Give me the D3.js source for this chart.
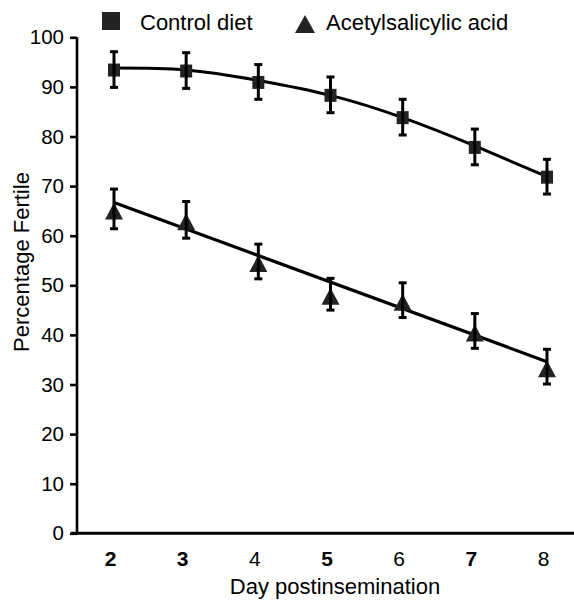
<!DOCTYPE html>
<html>
<head>
<meta charset="utf-8">
<script src="https://cdn.jsdelivr.net/npm/d3@7"></script>
<style>
  html, body { margin: 0; padding: 0; background: #fff; }
  svg { display: block; }
  text { font-family: "Liberation Sans", Arial, sans-serif; fill: #000; }
</style>
</head>
<body>
<svg id="chart" width="574" height="601"></svg>
<script>
// ---- data ----
const days = [2, 3, 4, 5, 6, 7, 8];
const controlMean = [93.5, 93.3, 91.0, 88.4, 83.9, 77.9, 71.9];
const controlErr  = [3.6, 3.6, 3.5, 3.6, 3.6, 3.6, 3.5];
const asaMean = [65.4, 63.2, 54.8, 48.2, 47.0, 40.8, 33.6];
const asaErr  = [4.0, 3.7, 3.5, 3.2, 3.5, 3.5, 3.5];
const controlFit = [93.8, 93.4, 91.3, 88.3, 83.8, 78.1, 71.9];
const asaFitDays = [2, 8];
const asaFit = [66.7, 34.6];
const yTicks = [0, 10, 20, 30, 40, 50, 60, 70, 80, 90, 100];
const xTickLabels = ["2", "3", "4", "5", "6", "7", "8"];
const seriesNames = ["Control diet", "Acetylsalicylic acid"];

// ---- layout ----
const svg = d3.select("#chart");
const x = d3.scaleLinear().domain([2, 8]).range([114, 547]);
const y = d3.scaleLinear().domain([0, 100]).range([533.3, 37.3]);
const markColor = "#232323";
const boldX = new Set(["2", "3", "5", "7"]);

// axes
const yAxis = d3.axisLeft(y).tickValues(yTicks).tickSize(7).tickPadding(6).tickFormat(d3.format("d"));
const gy = svg.append("g").attr("transform", "translate(77,0)").call(yAxis);
gy.select(".domain").attr("stroke", "#000").attr("stroke-width", 2.6).attr("d", `M0,${y(100)}V${y(0)}`);
gy.selectAll(".tick line").attr("stroke", "#000").attr("stroke-width", 2.6);
gy.selectAll(".tick text").attr("font-size", 20.5).attr("font-family", "Liberation Sans, Arial, sans-serif").attr("fill", "#000");

const xAxis = d3.axisBottom(x).tickValues(days).tickSize(0).tickPadding(18).tickFormat((d, i) => xTickLabels[i]);
const gx = svg.append("g").attr("transform", `translate(0,${y(0)})`).call(xAxis);
gx.select(".domain").attr("stroke", "#000").attr("stroke-width", 3).attr("d", "M71,0H574");
gx.selectAll(".tick text").attr("font-size", 21).attr("dx", -4)
  .attr("font-family", "Liberation Sans, Arial, sans-serif").attr("fill", "#000")
  .attr("font-weight", (d, i) => boldX.has(xTickLabels[i]) ? "bold" : "normal");

// axis titles
svg.append("text").attr("x", 335).attr("y", 594).attr("text-anchor", "middle")
  .attr("font-size", 22).text("Day postinsemination");
svg.append("text").attr("transform", "translate(29,262) rotate(-90)").attr("text-anchor", "middle")
  .attr("font-size", 22).text("Percentage Fertile");

// fit lines
const lineGen = d3.line().x(d => x(d[0])).y(d => y(d[1]));
svg.append("path").datum(days.map((d, i) => [d, controlFit[i]]))
  .attr("d", lineGen.curve(d3.curveNatural)).attr("fill", "none").attr("stroke", "#000").attr("stroke-width", 3);
svg.append("path").datum(asaFitDays.map((d, i) => [d, asaFit[i]]))
  .attr("d", d3.line().x(d => x(d[0])).y(d => y(d[1]))).attr("fill", "none").attr("stroke", "#000").attr("stroke-width", 3.2);

// markers
const sq = 12;
svg.append("g").selectAll("rect").data(days).join("rect")
  .attr("x", (d) => x(d) - sq / 2).attr("y", (d, i) => y(controlMean[i]) - sq / 2)
  .attr("width", sq).attr("height", sq + 1).attr("fill", markColor);

const tw = 18, th = 17;
const tri = (cx, cy) => `M${cx},${cy - th / 2}L${cx + tw / 2},${cy + th / 2}L${cx - tw / 2},${cy + th / 2}Z`;
svg.append("g").selectAll("path").data(days).join("path")
  .attr("d", (d, i) => tri(x(d), y(asaMean[i]) + 2)).attr("fill", markColor);

// error bars
function errorBars(means, errs) {
  const g = svg.append("g").attr("stroke", "#000").attr("stroke-width", 3);
  days.forEach((d, i) => {
    const cx = x(d), top = y(means[i] + errs[i]), bot = y(means[i] - errs[i]);
    g.append("line").attr("x1", cx).attr("x2", cx).attr("y1", top).attr("y2", bot);
    g.append("line").attr("x1", cx - 4).attr("x2", cx + 4).attr("y1", top).attr("y2", top);
    g.append("line").attr("x1", cx - 4).attr("x2", cx + 4).attr("y1", bot).attr("y2", bot);
  });
}
errorBars(controlMean, controlErr);
errorBars(asaMean, asaErr);

// legend
const lg = svg.append("g");
lg.append("rect").attr("x", 102).attr("y", 12).attr("width", 18).attr("height", 18).attr("fill", markColor);
lg.append("text").attr("x", 140).attr("y", 30).attr("font-size", 22).text(seriesNames[0]);
lg.append("path").attr("d", "M305,15L315,33L295,33Z").attr("fill", markColor);
lg.append("text").attr("x", 326).attr("y", 30).attr("font-size", 22).text(seriesNames[1]);
</script>
</body>
</html>
